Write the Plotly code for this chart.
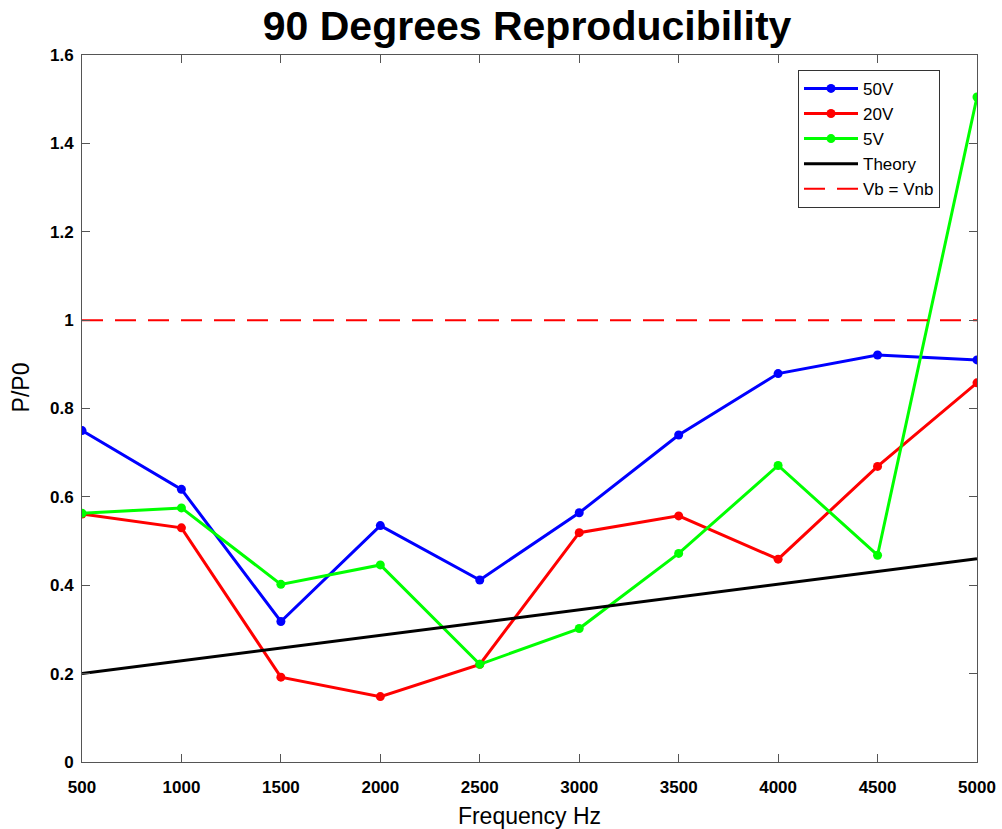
import plotly.graph_objects as go

# Frequency sweep (Hz)
freq = [500, 1000, 1500, 2000, 2500, 3000, 3500, 4000, 4500, 5000]

# Measured P/P0 at each bias voltage
p_50v = [0.750, 0.617, 0.318, 0.535, 0.412, 0.564, 0.740, 0.879, 0.921, 0.910]
p_20v = [0.561, 0.530, 0.192, 0.148, 0.221, 0.519, 0.557, 0.459, 0.669, 0.858]
p_5v = [0.563, 0.575, 0.402, 0.446, 0.221, 0.302, 0.472, 0.671, 0.468, 1.505]

# Theoretical prediction (straight line between the end frequencies)
theory_freq = [500, 5000]
theory_val = [0.200, 0.460]

# Reference level where biased and non-biased values are equal
ref_freq = [500, 5000]
ref_val = [1.0, 1.0]

FONT = "Liberation Sans, Arial, sans-serif"

fig = go.Figure()

series = [("50V", p_50v, "#0000ff"), ("20V", p_20v, "#ff0000"), ("5V", p_5v, "#00ff00")]
for name, vals, col in series:
    fig.add_trace(go.Scatter(
        x=freq, y=vals, name=name, mode="lines+markers",
        line=dict(color=col, width=3),
        marker=dict(color=col, size=9, symbol="circle"),
    ))

fig.add_trace(go.Scatter(
    x=theory_freq, y=theory_val, name="Theory", mode="lines",
    line=dict(color="#000000", width=3),
))
fig.add_trace(go.Scatter(
    x=ref_freq, y=ref_val, name="Vb = Vnb", mode="lines",
    line=dict(color="#ff0000", width=2, dash="21px,12px"),
))

axis_common = dict(
    showline=True, linecolor="#555555", linewidth=1, mirror="ticks",
    ticks="inside", ticklen=8, tickcolor="#555555",
    showgrid=False, zeroline=False, automargin=False,
    tickfont=dict(family=FONT, size=17, color="#000000", weight="bold"),
)

fig.update_layout(
    width=1002, height=829,
    margin=dict(l=82, r=25, t=55, b=67),
    paper_bgcolor="#ffffff", plot_bgcolor="#ffffff",
    title=dict(
        text="<b>90 Degrees Reproducibility</b>",
        x=0.526, xanchor="center", y=0.969, yanchor="middle",
        font=dict(family=FONT, size=41, color="#000000"),
    ),
    xaxis=dict(
        axis_common, range=[500, 5000], tickmode="array",
        tickvals=freq, ticktext=[str(f) for f in freq],
        ticklabelstandoff=10,
        title=dict(text="Frequency Hz", standoff=14,
                   font=dict(family=FONT, size=23, color="#000000")),
    ),
    yaxis=dict(
        axis_common, range=[0, 1.6], dtick=0.2, tick0=0,
        ticklabelstandoff=4,
    ),
    annotations=[dict(
        text="P/P0", textangle=-90, showarrow=False,
        xref="paper", yref="paper", x=-0.068, y=0.53,
        xanchor="center", yanchor="middle",
        font=dict(family=FONT, size=23, color="#000000"),
    )],
    legend=dict(
        x=0.80, y=0.979, xanchor="left", yanchor="top",
        bgcolor="#ffffff", bordercolor="#333333", borderwidth=1,
        font=dict(family=FONT, size=17, color="#000000"),
        itemwidth=54, tracegroupgap=0,
    ),
    showlegend=True,
)

fig.write_html("out.html")
